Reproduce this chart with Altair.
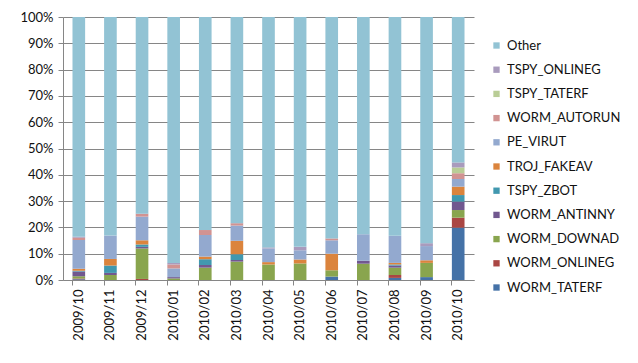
import altair as alt
import pandas as pd

categories = ["2009/10", "2009/11", "2009/12", "2010/01", "2010/02", "2010/03", "2010/04",
              "2010/05", "2010/06", "2010/07", "2010/08", "2010/09", "2010/10"]

WORM_TATERF = [0.3, 0, 0, 0, 0, 0, 0, 0, 1.3, 0, 0.8, 1.1, 19.9]
WORM_ONLINEG = [0.3, 0, 0.4, 0, 0, 0, 0, 0, 0, 0, 1.1, 0, 3.8]
WORM_DOWNAD = [0.8, 1.9, 11.6, 0.6, 4.7, 7.0, 5.9, 6.3, 2.4, 6.2, 2.8, 5.4, 2.9]
WORM_ANTINNY = [1.8, 0.8, 0.6, 0.5, 1.0, 0.6, 0, 0, 0, 1.1, 0.8, 0, 3.2]
TSPY_ZBOT = [0.3, 2.8, 0.9, 0, 2.2, 2.2, 0, 0, 0, 0, 0.4, 0, 2.5]
TROJ_FAKEAV = [0.8, 2.5, 1.6, 0, 1.0, 5.1, 0.9, 1.5, 6.3, 0, 0.6, 1.0, 3.2]
PE_VIRUT = [10.9, 8.9, 9.0, 3.3, 8.2, 5.8, 5.2, 3.5, 5.1, 10.1, 10.3, 5.4, 2.9]
WORM_AUTORUN = [0.9, 0, 1.1, 1.5, 1.9, 0.9, 0, 0, 0.7, 0, 0, 0, 2.2]
TSPY_TATERF = [0, 0, 0, 0, 0, 0, 0, 0, 0, 0, 0, 0, 2.2]
TSPY_ONLINEG = [0.3, 0, 0, 0.6, 0, 0, 0.4, 1.3, 0, 0, 0, 1.1, 1.9]
Other = [83.6, 83.1, 74.8, 93.5, 81.0, 78.4, 87.6, 87.4, 84.2, 82.6, 83.2, 86.0, 55.3]

# stacking order bottom -> top
series_names = ["WORM_TATERF", "WORM_ONLINEG", "WORM_DOWNAD", "WORM_ANTINNY", "TSPY_ZBOT",
                "TROJ_FAKEAV", "PE_VIRUT", "WORM_AUTORUN", "TSPY_TATERF", "TSPY_ONLINEG", "Other"]
series_values = [WORM_TATERF, WORM_ONLINEG, WORM_DOWNAD, WORM_ANTINNY, TSPY_ZBOT,
                 TROJ_FAKEAV, PE_VIRUT, WORM_AUTORUN, TSPY_TATERF, TSPY_ONLINEG, Other]
series_colors = ["#4572A7", "#AA4643", "#89A54E", "#71588F", "#4198AF",
                 "#DB843D", "#93A9CF", "#D19392", "#B9CD96", "#A99BBD", "#92C3D4"]

rows = []
for i, (name, vals) in enumerate(zip(series_names, series_values)):
    for cat, v in zip(categories, vals):
        rows.append({"month": cat, "series": name, "value": v, "idx": i})
df = pd.DataFrame(rows)

legend_order = series_names[::-1]
legend_colors = series_colors[::-1]

FONT = "Lato"
TXT = "#111111"

chart = alt.Chart(df).mark_bar().encode(
    x=alt.X("month:N", sort=categories, title=None,
            scale=alt.Scale(paddingInner=0.6, paddingOuter=0.3),
            axis=alt.Axis(labelAngle=-90, bandPosition=0, tickSize=5, labelPadding=4,
                          domainColor="#868686", tickColor="#868686",
                          labelColor=TXT, labelFontSize=13, labelFont=FONT,
                          grid=False)),
    y=alt.Y("value:Q", stack="normalize", title=None,
            scale=alt.Scale(domain=[0, 1]),
            axis=alt.Axis(format=".0%", values=[i / 10 for i in range(11)],
                          tickSize=5, labelPadding=5, domainColor="#868686",
                          tickColor="#868686", gridColor="#868686", gridWidth=1,
                          labelColor=TXT, labelFontSize=13, labelFont=FONT)),
    color=alt.Color("series:N", scale=alt.Scale(domain=legend_order, range=legend_colors),
                    legend=alt.Legend(title=None, labelFontSize=13, labelFont=FONT,
                                      labelColor=TXT, symbolType="square",
                                      symbolSize=40, symbolStrokeWidth=0,
                                      rowPadding=10.2, orient="none",
                                      legendX=427, legendY=22, labelLimit=200)),
    order=alt.Order("idx:Q", sort="ascending"),
).properties(
    width=411, height=263,
    padding={"left": 11, "top": 3, "right": 5, "bottom": 5},
).configure_view(stroke=None)

chart.save("out.html", embed_options={"renderer": "svg", "actions": False})
